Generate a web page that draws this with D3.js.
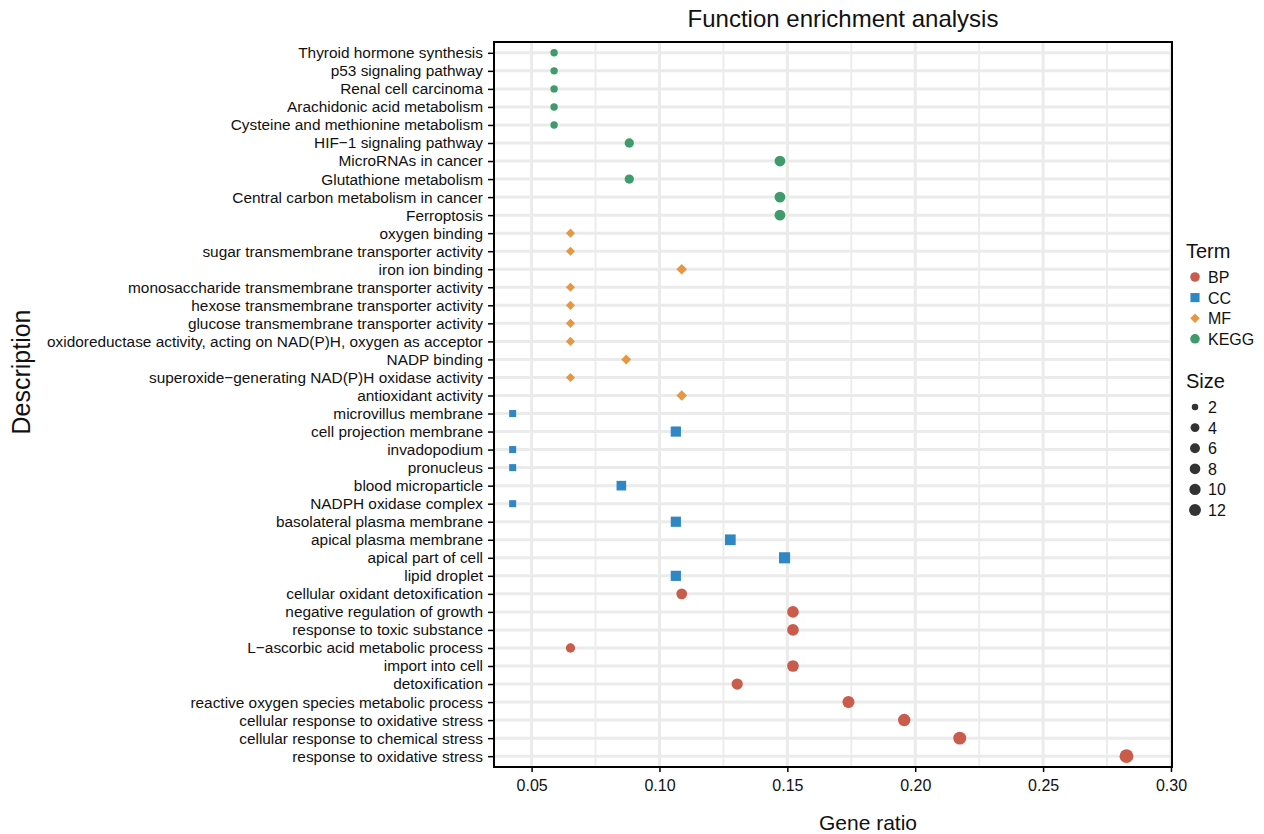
<!DOCTYPE html>
<html>
<head>
<meta charset="utf-8">
<script src="https://cdn.jsdelivr.net/npm/d3@7"></script>
<style>
  body { margin: 0; background: #fff; }
  svg text { font-family: "Liberation Sans", Arial, sans-serif; fill: #111; }
</style>
</head>
<body>
<div id="chart"></div>
<script>
// rows, top to bottom
const descriptions = [
	'Thyroid hormone synthesis', 'p53 signaling pathway', 'Renal cell carcinoma',
	'Arachidonic acid metabolism', 'Cysteine and methionine metabolism', 'HIF\u22121 signaling pathway',
	'MicroRNAs in cancer', 'Glutathione metabolism', 'Central carbon metabolism in cancer', 'Ferroptosis',
	'oxygen binding', 'sugar transmembrane transporter activity', 'iron ion binding',
	'monosaccharide transmembrane transporter activity', 'hexose transmembrane transporter activity',
	'glucose transmembrane transporter activity', 'oxidoreductase activity, acting on NAD(P)H, oxygen as acceptor',
	'NADP binding', 'superoxide\u2212generating NAD(P)H oxidase activity', 'antioxidant activity',
	'microvillus membrane', 'cell projection membrane', 'invadopodium', 'pronucleus', 'blood microparticle',
	'NADPH oxidase complex', 'basolateral plasma membrane', 'apical plasma membrane', 'apical part of cell',
	'lipid droplet',
	'cellular oxidant detoxification', 'negative regulation of growth', 'response to toxic substance',
	'L\u2212ascorbic acid metabolic process', 'import into cell', 'detoxification',
	'reactive oxygen species metabolic process', 'cellular response to oxidative stress',
	'cellular response to chemical stress', 'response to oxidative stress'
];
const terms = [
	'KEGG', 'KEGG', 'KEGG', 'KEGG', 'KEGG', 'KEGG', 'KEGG', 'KEGG', 'KEGG', 'KEGG',
	'MF', 'MF', 'MF', 'MF', 'MF', 'MF', 'MF', 'MF', 'MF', 'MF',
	'CC', 'CC', 'CC', 'CC', 'CC', 'CC', 'CC', 'CC', 'CC', 'CC',
	'BP', 'BP', 'BP', 'BP', 'BP', 'BP', 'BP', 'BP', 'BP', 'BP'
];
const geneRatios = [
	0.0588, 0.0588, 0.0588, 0.0588, 0.0588, 0.0882, 0.1471, 0.0882, 0.1471, 0.1471,
	0.0652, 0.0652, 0.1087, 0.0652, 0.0652, 0.0652, 0.0652, 0.0870, 0.0652, 0.1087,
	0.0426, 0.1064, 0.0426, 0.0426, 0.0851, 0.0426, 0.1064, 0.1277, 0.1489, 0.1064,
	0.1087, 0.1522, 0.1522, 0.0652, 0.1522, 0.1304, 0.1739, 0.1957, 0.2174, 0.2826
];
const counts = [
	2, 2, 2, 2, 2, 3, 5, 3, 5, 5,
	3, 3, 5, 3, 3, 3, 3, 4, 3, 5,
	2, 5, 2, 2, 4, 2, 5, 6, 7, 5,
	5, 7, 7, 3, 7, 6, 8, 9, 10, 13
];
const termNames = ['BP', 'CC', 'MF', 'KEGG'];
const termColours = ['#c95c4b', '#2f87c3', '#e8963f', '#3f9a6c'];
const xTicks = [0.05, 0.10, 0.15, 0.20, 0.25, 0.30];
const sizeBreaks = [2, 4, 6, 8, 10, 12];

const width = 1264, height = 834;
const margin = { top: 42, right: 92, bottom: 67, left: 494 };

const data = descriptions.map((d, i) => ({
	desc: d, term: terms[i], ratio: geneRatios[i], count: counts[i]
}));

const svg = d3.select('#chart')
	.append('svg')
	.attr('width', width)
	.attr('height', height);

const x = d3.scaleLinear()
	.domain([0.0353, 0.3004])
	.range([margin.left, width - margin.right]);

const y = d3.scalePoint()
	.domain(descriptions)
	.range([margin.top, height - margin.bottom])
	.padding(0.6);

const colour = d3.scaleOrdinal().domain(termNames).range(termColours);

// ggplot-like area scale: radius grows with sqrt of rescaled count
const countMin = d3.min(counts), countMax = d3.max(counts);
const radiusLin = d3.scaleLinear().domain([0, 1]).range([3.7, 6.9]);
const radius = c => radiusLin(Math.sqrt((c - countMin) / (countMax - countMin)));

const shapePath = (term, r) => {
	if (term === 'CC') {
		const h = r * 0.95;
		return `M${-h},${-h}H${h}V${h}H${-h}Z`;
	}
	if (term === 'MF') {
		const h = r * 0.98;
		return `M0,${-h}L${h},0L0,${h}L${-h},0Z`;
	}
	return d3.symbol(d3.symbolCircle, Math.PI * r * r)();
};

// gridlines
const minorTicks = d3.range(0.075, 0.3, 0.05);
svg.append('g')
	.selectAll('line')
	.data(minorTicks)
	.join('line')
	.attr('x1', d => x(d)).attr('x2', d => x(d))
	.attr('y1', margin.top).attr('y2', height - margin.bottom)
	.attr('stroke', '#ebebeb')
	.attr('stroke-width', 1.8);

svg.append('g')
	.selectAll('line')
	.data(xTicks)
	.join('line')
	.attr('x1', d => x(d)).attr('x2', d => x(d))
	.attr('y1', margin.top).attr('y2', height - margin.bottom)
	.attr('stroke', '#ebebeb')
	.attr('stroke-width', 3);

svg.append('g')
	.selectAll('line')
	.data(descriptions)
	.join('line')
	.attr('x1', margin.left).attr('x2', width - margin.right)
	.attr('y1', d => y(d)).attr('y2', d => y(d))
	.attr('stroke', '#ebebeb')
	.attr('stroke-width', 3);

// points
svg.append('g')
	.selectAll('path')
	.data(data)
	.join('path')
	.attr('transform', d => `translate(${x(d.ratio)},${y(d.desc)})`)
	.attr('d', d => shapePath(d.term, radius(d.count)))
	.attr('fill', d => colour(d.term));

// panel border
svg.append('rect')
	.attr('x', margin.left)
	.attr('y', margin.top)
	.attr('width', width - margin.right - margin.left)
	.attr('height', height - margin.bottom - margin.top)
	.attr('fill', 'none')
	.attr('stroke', '#000')
	.attr('stroke-width', 2);

// axes
const xAxis = svg.append('g')
	.attr('transform', `translate(0,${height - margin.bottom})`)
	.call(d3.axisBottom(x).tickValues(xTicks).tickFormat(d3.format('.2f')).tickSize(5).tickPadding(8))
	.call(g => g.select('.domain').remove());
xAxis.selectAll('line').attr('stroke', '#000').attr('stroke-width', 1.5);
xAxis.selectAll('text').attr('font-size', 16).attr('fill', '#111');

const yAxis = svg.append('g')
	.attr('transform', `translate(${margin.left},0)`)
	.call(d3.axisLeft(y).tickSize(6).tickPadding(5))
	.call(g => g.select('.domain').remove());
yAxis.selectAll('line').attr('stroke', '#000').attr('stroke-width', 1.5);
yAxis.selectAll('text').attr('font-size', 15.4).attr('fill', '#111');

// titles
svg.append('text')
	.attr('x', 843).attr('y', 27)
	.attr('text-anchor', 'middle')
	.attr('font-size', 24)
	.text('Function enrichment analysis');

svg.append('text')
	.attr('x', 868).attr('y', 830)
	.attr('text-anchor', 'middle')
	.attr('font-size', 21)
	.text('Gene ratio');

svg.append('text')
	.attr('transform', 'translate(30,372) rotate(-90)')
	.attr('text-anchor', 'middle')
	.attr('font-size', 25)
	.text('Description');

// legend: term
const legend = svg.append('g').attr('transform', 'translate(1186,0)');
legend.append('text')
	.attr('x', 0).attr('y', 258)
	.attr('font-size', 20)
	.text('Term');
const termRow = legend.selectAll('g.term')
	.data(termNames)
	.join('g')
	.attr('class', 'term')
	.attr('transform', (d, i) => `translate(9,${277 + i * 20.6})`);
termRow.append('path')
	.attr('d', d => shapePath(d, 4.8))
	.attr('fill', d => colour(d));
termRow.append('text')
	.attr('x', 13).attr('y', 6)
	.attr('font-size', 16)
	.text(d => d);

// legend: size
legend.append('text')
	.attr('x', 0).attr('y', 388)
	.attr('font-size', 20)
	.text('Size');
const sizeRow = legend.selectAll('g.size')
	.data(sizeBreaks)
	.join('g')
	.attr('class', 'size')
	.attr('transform', (d, i) => `translate(9,${407 + i * 20.6})`);
sizeRow.append('path')
	.attr('d', d => shapePath('BP', radius(d) * 0.88))
	.attr('fill', '#333');
sizeRow.append('text')
	.attr('x', 13).attr('y', 6)
	.attr('font-size', 16)
	.text(d => d);
</script>
</body>
</html>
